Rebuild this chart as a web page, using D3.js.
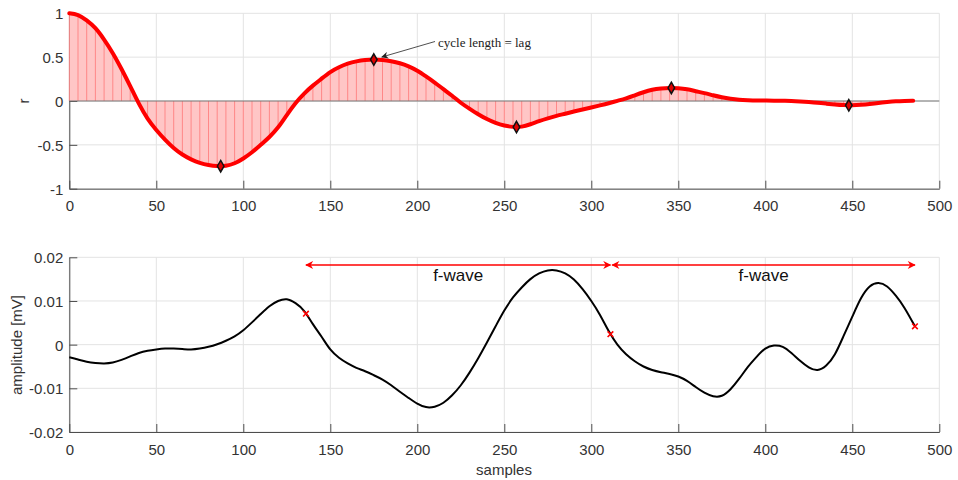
<!DOCTYPE html>
<html><head><meta charset="utf-8">
<script src="https://cdn.jsdelivr.net/npm/d3@7"></script>
<style>
html,body{margin:0;padding:0;background:#fff;}
svg{display:block;}
</style></head>
<body>
<svg id="chart" width="958" height="480"></svg>
<script>
// ---- Top panel: autocorrelation (lag step 5) ----
const acfLag = [0,5,10,15,20,25,30,35,40,45,50,55,60,65,70,75,80,85,90,95,100,105,110,115,120,125,130,135,140,145,150,155,160,165,170,175,180,185,190,195,200,205,210,215,220,225,230,235,240,245,250,255,260,265,270,275,280,285,290,295,300,305,310,315,320,325,330,335,340,345,350,355,360,365,370,375,380,385,390,395,400,405,410,415,420,425,430,435,440,445,450,455,460,465,470,475,480,485];
const acfR = [1.0,0.98,0.92,0.83,0.70,0.545,0.365,0.17,-0.03,-0.2,-0.33,-0.44,-0.535,-0.61,-0.665,-0.705,-0.73,-0.742,-0.738,-0.71,-0.655,-0.585,-0.5,-0.41,-0.3,-0.16,-0.025,0.085,0.175,0.255,0.33,0.385,0.425,0.452,0.468,0.473,0.468,0.453,0.43,0.395,0.345,0.28,0.21,0.135,0.06,-0.02,-0.088,-0.151,-0.206,-0.25,-0.28,-0.295,-0.292,-0.265,-0.23,-0.198,-0.17,-0.145,-0.12,-0.097,-0.074,-0.05,-0.025,0.002,0.03,0.065,0.1,0.128,0.143,0.149,0.145,0.133,0.112,0.09,0.065,0.042,0.025,0.014,0.009,0.006,0.005,0.004,0.002,0.0,-0.005,-0.012,-0.02,-0.03,-0.04,-0.047,-0.048,-0.043,-0.034,-0.022,-0.012,-0.004,0.0,0.002];
const peakLag = [87,175,257,346,448];
const peakR = [-0.743,0.473,-0.297,0.149,-0.049];
const topXTicks = [0,50,100,150,200,250,300,350,400,450,500];
const topYTicks = [-1,-0.5,0,0.5,1];
const topYLabels = ["-1","-0.5","0","0.5","1"];
const annotText = "cycle length = lag";

// ---- Bottom panel: signal ----
const sigSample = [0,5,10,15,20,25,30,35,40,45,50,55,60,65,70,75,80,85,90,95,100,105,110,115,120,125,130,135,140,145,150,155,160,165,170,175,180,185,190,195,200,205,210,215,220,225,230,235,240,245,250,255,260,265,270,275,280,285,290,295,300,305,310,315,320,325,330,335,340,345,350,355,360,365,370,375,380,385,390,395,400,405,410,415,420,425,430,435,440,445,450,455,460,465,470,475,480,486];
const sigAmp = [-0.0029,-0.0034,-0.0039,-0.0042,-0.0043,-0.0041,-0.0035,-0.0027,-0.0019,-0.0014,-0.0011,-0.0009,-0.0009,-0.0010,-0.0011,-0.0009,-0.0005,0.0001,0.0009,0.0019,0.0033,0.0051,0.0070,0.0088,0.0100,0.0104,0.0095,0.0077,0.0047,0.0018,-0.0011,-0.0030,-0.0043,-0.0053,-0.0061,-0.0070,-0.0080,-0.0093,-0.0108,-0.0122,-0.0135,-0.0143,-0.0142,-0.0133,-0.0116,-0.0093,-0.0064,-0.0031,0.0005,0.0042,0.0078,0.0108,0.0131,0.0150,0.0163,0.0170,0.0170,0.0163,0.0149,0.0127,0.0100,0.0068,0.0031,0.0000,-0.0022,-0.0038,-0.0050,-0.0058,-0.0063,-0.0067,-0.0073,-0.0083,-0.0097,-0.0110,-0.0118,-0.0117,-0.0102,-0.0078,-0.0051,-0.0028,-0.0009,-0.0002,-0.0005,-0.0019,-0.0037,-0.0052,-0.0058,-0.0048,-0.0022,0.0020,0.0064,0.0106,0.0133,0.0141,0.0133,0.0112,0.0084,0.0042];
const markSample = [136,311,486];
const markAmp = [0.0071,0.0024,0.0042];
const fwStart = [136,312];
const fwEnd = [311,486];
const fwLevel = 0.01825;
const fwLabel = "f-wave";
const botXTicks = [0,50,100,150,200,250,300,350,400,450,500];
const botYTicks = [-0.02,-0.01,0,0.01,0.02];
const botYLabels = ["-0.02","-0.01","0","0.01","0.02"];

const svg = d3.select("#chart");
const FONT = "'Liberation Sans', Arial, sans-serif";
const X0 = 69.3, X1 = 939.3;

const defs = svg.append("defs");
function mk(id, color, w, h){
  defs.append("marker").attr("id", id).attr("viewBox","0 0 10 10").attr("refX",9).attr("refY",5)
    .attr("markerWidth",w).attr("markerHeight",h).attr("markerUnits","userSpaceOnUse").attr("orient","auto-start-reverse")
    .append("path").attr("d","M0,0 L10,5 L0,10 L3,5 Z").attr("fill",color);
}
mk("arrR","#ff0000",11,8);
mk("arrK","#222",10,7);

function panel(yTop, yBot, xTicks, yTicks, yLabels){
  const x = d3.scaleLinear().domain([0,500]).range([X0,X1]);
  const y = d3.scaleLinear().domain([yTicks[0], yTicks[yTicks.length-1]]).range([yBot, yTop]);
  const g = svg.append("g");
  g.append("g").selectAll("line").data(xTicks).join("line")
    .attr("x1",d=>x(d)).attr("x2",d=>x(d)).attr("y1",yTop).attr("y2",yBot)
    .attr("stroke","#e3e3e3").attr("stroke-width",1);
  g.append("g").selectAll("line").data(yTicks).join("line")
    .attr("x1",X0).attr("x2",X1).attr("y1",d=>y(d)).attr("y2",d=>y(d))
    .attr("stroke","#e3e3e3").attr("stroke-width",1);
  const xa = g.append("g").attr("transform",`translate(0,${yBot})`)
    .call(d3.axisBottom(x).tickValues(xTicks).tickSizeInner(-8).tickSizeOuter(0).tickPadding(12));
  const ya = g.append("g").attr("transform",`translate(${X0},0)`)
    .call(d3.axisLeft(y).tickValues(yTicks).tickFormat((d,i)=>yLabels[i]).tickSizeInner(-8).tickSizeOuter(0).tickPadding(6));
  [xa,ya].forEach(a=>{
    a.select(".domain").attr("stroke","#4d4d4d").attr("stroke-width",1);
    a.selectAll(".tick line").attr("stroke","#4d4d4d");
    a.selectAll("text").attr("fill","#333").style("font-family",FONT).style("font-size","15px");
  });
  ya.selectAll("text").attr("dy","0.36em");
  return {x,y,g};
}

// ---------- TOP ----------
const T = panel(13.3, 188.7, topXTicks, topYTicks, topYLabels);
const acf = acfLag.map((l,i)=>({l, r: acfR[i]}));
T.g.append("path").datum(acf)
  .attr("d", d3.area().x(d=>T.x(d.l)).y0(T.y(0)).y1(d=>T.y(d.r)).curve(d3.curveNatural))
  .attr("fill","#ffc6c6");
T.g.append("g").selectAll("line").data(acf).join("line")
  .attr("x1",d=>T.x(d.l)).attr("x2",d=>T.x(d.l)).attr("y1",T.y(0)).attr("y2",d=>T.y(d.r))
  .attr("stroke","#ff4a4a").attr("stroke-width",0.9).attr("opacity",0.55);
T.g.append("line").attr("x1",X0).attr("x2",X1).attr("y1",T.y(0)).attr("y2",T.y(0))
  .attr("stroke","#777").attr("stroke-width",1);
T.g.append("path").datum(acf)
  .attr("d", d3.line().x(d=>T.x(d.l)).y(d=>T.y(d.r)).curve(d3.curveNatural))
  .attr("fill","none").attr("stroke","#ff0000").attr("stroke-width",4).attr("stroke-linecap","round").attr("stroke-linejoin","round");
T.g.append("g").selectAll("path").data(peakLag).join("path")
  .attr("transform",(d,i)=>`translate(${T.x(d)},${T.y(peakR[i])})`)
  .attr("d", d3.symbol(d3.symbolDiamond, 38)())
  .attr("fill","#e00000").attr("stroke","#111").attr("stroke-width",1.5);
T.g.append("line").attr("x1",435).attr("y1",41.5).attr("x2",T.x(peakLag[1])+8).attr("y2",T.y(peakR[1])-2.5)
  .attr("stroke","#222").attr("stroke-width",0.8).attr("marker-end","url(#arrK)");
T.g.append("text").attr("x",438).attr("y",47).text(annotText)
  .style("font-family","'Liberation Serif','Times New Roman',serif").style("font-size","13px").attr("fill","#222");
svg.append("text").attr("transform","translate(29,101) rotate(-90)").attr("text-anchor","middle")
  .text("r").style("font-family",FONT).style("font-size","15px").attr("fill","#333");

// ---------- BOTTOM ----------
const B = panel(257.3, 432, botXTicks, botYTicks, botYLabels);
const sig = sigSample.map((s,i)=>({s, v: sigAmp[i]}));
B.g.append("path").datum(sig)
  .attr("d", d3.line().x(d=>B.x(d.s)).y(d=>B.y(d.v)).curve(d3.curveNatural))
  .attr("fill","none").attr("stroke","#000").attr("stroke-width",2);
B.g.append("g").selectAll("path").data(markSample).join("path")
  .attr("transform",(d,i)=>`translate(${B.x(d)},${B.y(markAmp[i])}) rotate(45)`)
  .attr("d", "M-4,0 L4,0 M0,-4 L0,4")
  .attr("stroke","#ff0000").attr("stroke-width",1.6).attr("fill","none");
B.g.append("g").selectAll("line").data(fwStart).join("line")
  .attr("x1",d=>B.x(d)).attr("x2",(d,i)=>B.x(fwEnd[i])).attr("y1",B.y(fwLevel)).attr("y2",B.y(fwLevel))
  .attr("stroke","#ff0000").attr("stroke-width",1.5)
  .attr("marker-start","url(#arrR)").attr("marker-end","url(#arrR)");
B.g.append("g").selectAll("text").data(fwStart).join("text")
  .attr("x",(d,i)=>B.x((d+fwEnd[i])/2)).attr("y",281).attr("text-anchor","middle").text(fwLabel)
  .style("font-family",FONT).style("font-size","17px").attr("fill","#111");
svg.append("text").attr("transform","translate(22,345) rotate(-90)").attr("text-anchor","middle")
  .text("amplitude [mV]").style("font-family",FONT).style("font-size","15px").attr("fill","#333");
svg.append("text").attr("x",504).attr("y",475).attr("text-anchor","middle")
  .text("samples").style("font-family",FONT).style("font-size","15px").attr("fill","#333");
</script>
</body></html>
